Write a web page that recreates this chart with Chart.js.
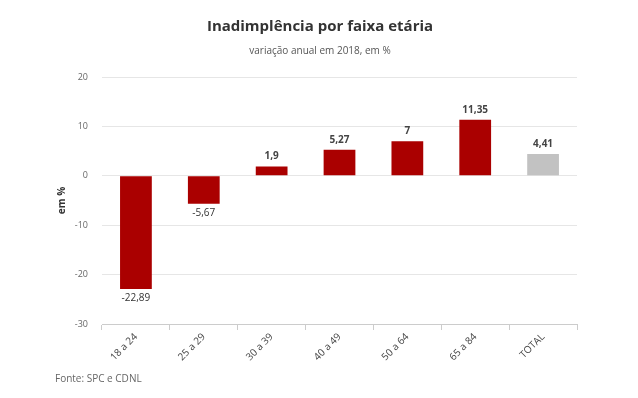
<!DOCTYPE html>
<html>
<head>
<meta charset="utf-8">
<script src="https://cdn.jsdelivr.net/npm/chart.js@4"></script>
<style>
  html, body { margin: 0; padding: 0; background: #fff; }
  #wrap { width: 638px; height: 398px; position: relative; }
</style>
</head>
<body>
<div id="wrap"><canvas id="chart" width="638" height="398"></canvas></div>
<script>
// === Inadimplência por faixa etária ===

const categories = ['18 a 24', '25 a 29', '30 a 39', '40 a 49', '50 a 64', '65 a 84', 'TOTAL'];
const values = [-22.89, -5.67, 1.9, 5.27, 7, 11.35, 4.41];
const yTicks = [20, 10, 0, -10, -20, -30];

const RED = '#aa0000';
const GREY = '#c2c2c2';
const FONT = "'Open Sans', sans-serif";

const barColors = categories.map(c => c === 'TOTAL' ? GREY : RED);

function fmt(v) {
  return String(v).replace('.', ',');
}

// value labels above / below bars
const valueLabels = {
  id: 'valueLabels',
  afterDatasetsDraw(chart) {
    const ctx = chart.ctx;
    const meta = chart.getDatasetMeta(0);
    ctx.save();
    ctx.textAlign = 'center';
    meta.data.forEach((bar, i) => {
      const v = values[i];
      if (v >= 0) {
        ctx.fillStyle = '#444';
        ctx.font = 'bold 10px ' + FONT;
        ctx.textBaseline = 'bottom';
        ctx.fillText(fmt(v), bar.x, bar.y - 5);
      } else {
        ctx.fillStyle = '#333';
        ctx.font = '10px ' + FONT;
        ctx.textBaseline = 'top';
        ctx.fillText(fmt(v), bar.x, bar.y + 4);
      }
    });
    ctx.restore();
  }
};

// title, subtitle and source text
const headerFooter = {
  id: 'headerFooter',
  afterDraw(chart) {
    const ctx = chart.ctx;
    ctx.save();
    ctx.textAlign = 'center';
    ctx.textBaseline = 'middle';
    ctx.fillStyle = '#333';
    ctx.font = 'bold 15px ' + FONT;
    ctx.fillText('Inadimplência por faixa etária', 320, 27);
    ctx.fillStyle = '#555';
    ctx.font = '10px ' + FONT;
    ctx.fillText('variação anual em 2018, em %', 320, 51);
    ctx.textAlign = 'left';
    ctx.fillStyle = '#666';
    ctx.fillText('Fonte: SPC e CDNL', 55, 379);
    ctx.restore();
  }
};

new Chart(document.getElementById('chart'), {
  type: 'bar',
  data: {
    labels: categories,
    datasets: [{
      data: values,
      backgroundColor: barColors,
      barPercentage: 0.6,
      categoryPercentage: 0.78,
    }],
  },
  options: {
    responsive: false,
    animation: false,
    layout: { padding: { left: 56, right: 61, top: 77, bottom: 30 } },
    plugins: {
      legend: { display: false },
      tooltip: { enabled: false },
    },
    scales: {
      x: {
        grid: { drawOnChartArea: false, tickLength: 6, color: '#ccc' },
        border: { display: true, color: '#ccc' },
        ticks: {
          color: '#444',
          font: { family: FONT, size: 10 },
          maxRotation: 45,
          minRotation: 45,
          padding: 1,
        },
        afterFit: scale => { scale.height = 44; },
      },
      y: {
        min: -30,
        max: 20,
        afterBuildTicks: scale => { scale.ticks = yTicks.map(v => ({ value: v })); },
        grid: { color: '#e6e6e6', drawTicks: false },
        border: { display: false },
        ticks: {
          color: '#666',
          font: { family: FONT, size: 9 },
          padding: 14,
        },
        title: {
          display: true,
          text: 'em %',
          color: '#333',
          font: { family: FONT, size: 10, weight: 'bold' },
          padding: { top: 0, bottom: 0 },
        },
        afterFit: scale => { scale.width = 46; },
      },
    },
  },
  plugins: [valueLabels, headerFooter],
});
</script>
</body>
</html>
